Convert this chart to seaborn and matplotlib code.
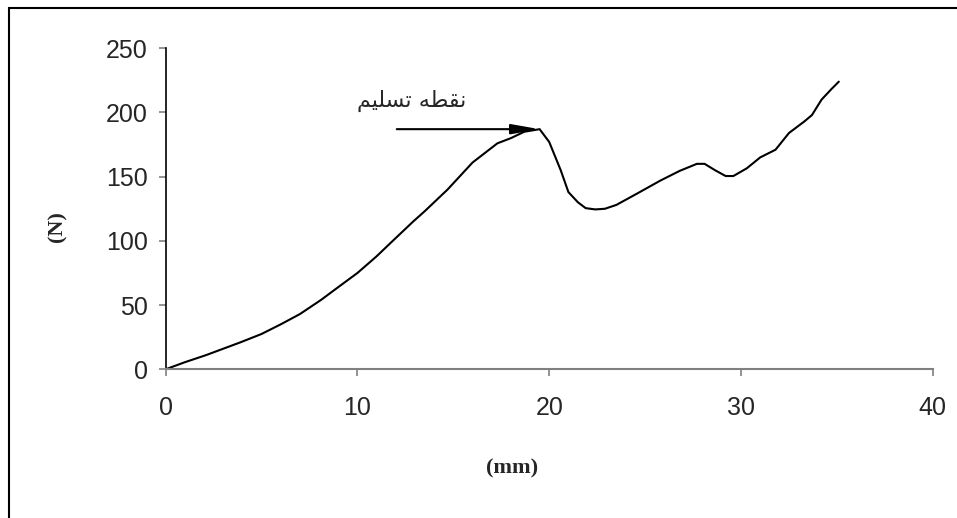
import numpy as np
import matplotlib
matplotlib.use('Agg')
import matplotlib.pyplot as plt
from matplotlib.patches import Rectangle
import seaborn as sns

sns.set_style("ticks")
plt.rcParams['font.family'] = ['Liberation Sans', 'DejaVu Sans']

# displacement (mm) and force (N)
disp = [0, 1, 2.1, 3, 3.9, 5, 5.6, 6, 6.5, 7, 7.5, 8.1, 9, 10, 11, 11.7, 12.9, 13.5,
		14.7, 16, 17.3, 18, 18.7, 19.5, 20, 20.6, 21, 21.5, 21.9, 22.4, 22.9, 23.5,
		24.6, 25.8, 26.8, 27.7, 28.1, 28.65, 29.2, 29.6, 30.3, 31, 31.8, 32.5,
		33.3, 33.7, 34.2, 34.7, 35.1]
force = [0, 5.5, 11, 16, 21, 27.5, 32, 35, 39, 43, 48, 54, 64, 75, 88, 98, 115, 123,
		140, 161, 176, 180, 185, 187, 177, 155, 138, 130, 125.5, 124.5, 125, 128,
		137, 147, 154.5, 160, 160, 155, 150.5, 150.5, 156.5, 165, 171, 184,
		193, 198, 210, 218, 224]

xticks = [0, 10, 20, 30, 40]
yticks = [0, 50, 100, 150, 200, 250]

yield_x = 19.5			#arrow tip (yield point)
yield_y = 187
# 'نقطه تسلیم' written in presentation forms, visual order (matplotlib does no shaping)
yield_label = '\uFEE2\uFBFF\uFEE0\uFEB4\uFE97 \uFEEA\uFEC4\uFED8\uFEE7'

fig = plt.figure(figsize=(9.57, 5.18), dpi=100)
ax = fig.add_axes([0.1731, 0.2871, 0.9747 - 0.1731, 0.9068 - 0.2871])

sns.lineplot(x=disp, y=force, ax=ax, color='black', linewidth=1.5, sort=False)

ax.set_xlim(0, 40)
ax.set_ylim(0, 250)
ax.set_xticks(xticks)
ax.set_yticks(yticks)
ax.tick_params(axis='both', labelsize=18, direction='out', length=5, width=1.2, color='#808080')
ax.tick_params(axis='x', pad=14)
ax.tick_params(axis='y', pad=8)
sns.despine(ax=ax)
ax.spines['left'].set_color('black')
ax.spines['left'].set_linewidth(1.2)
ax.spines['bottom'].set_color('#808080')
ax.spines['bottom'].set_linewidth(1.5)

ax.annotate('', xy=(yield_x, yield_y), xytext=(12.05, yield_y),
			arrowprops=dict(arrowstyle='-|>,head_length=0.85,head_width=0.15',
							color='black', lw=1.5, mutation_scale=20,
							shrinkA=0, shrinkB=0))
ax.text(12.85, 209, yield_label, ha='center', va='center', fontsize=16,
		family=['DejaVu Sans'])

fig.text(57.5 / 957, 1 - 227 / 518, '(N)', rotation=90, ha='center', va='center',
		fontsize=16, fontweight='bold', family=['Liberation Serif'])
fig.text(512.5 / 957, 1 - 468 / 518, '(mm)', ha='center', va='center',
		fontsize=16, fontweight='bold', family=['Liberation Serif'])

# outer chart frame (only its top and left edges are inside the picture)
fig.patches.append(Rectangle((9 / 957, -0.5), 2, 0.5 + 1 - 8 / 518,
		transform=fig.transFigure, fill=False, edgecolor='black', linewidth=1.5))

fig.savefig('out.png', dpi=100)
